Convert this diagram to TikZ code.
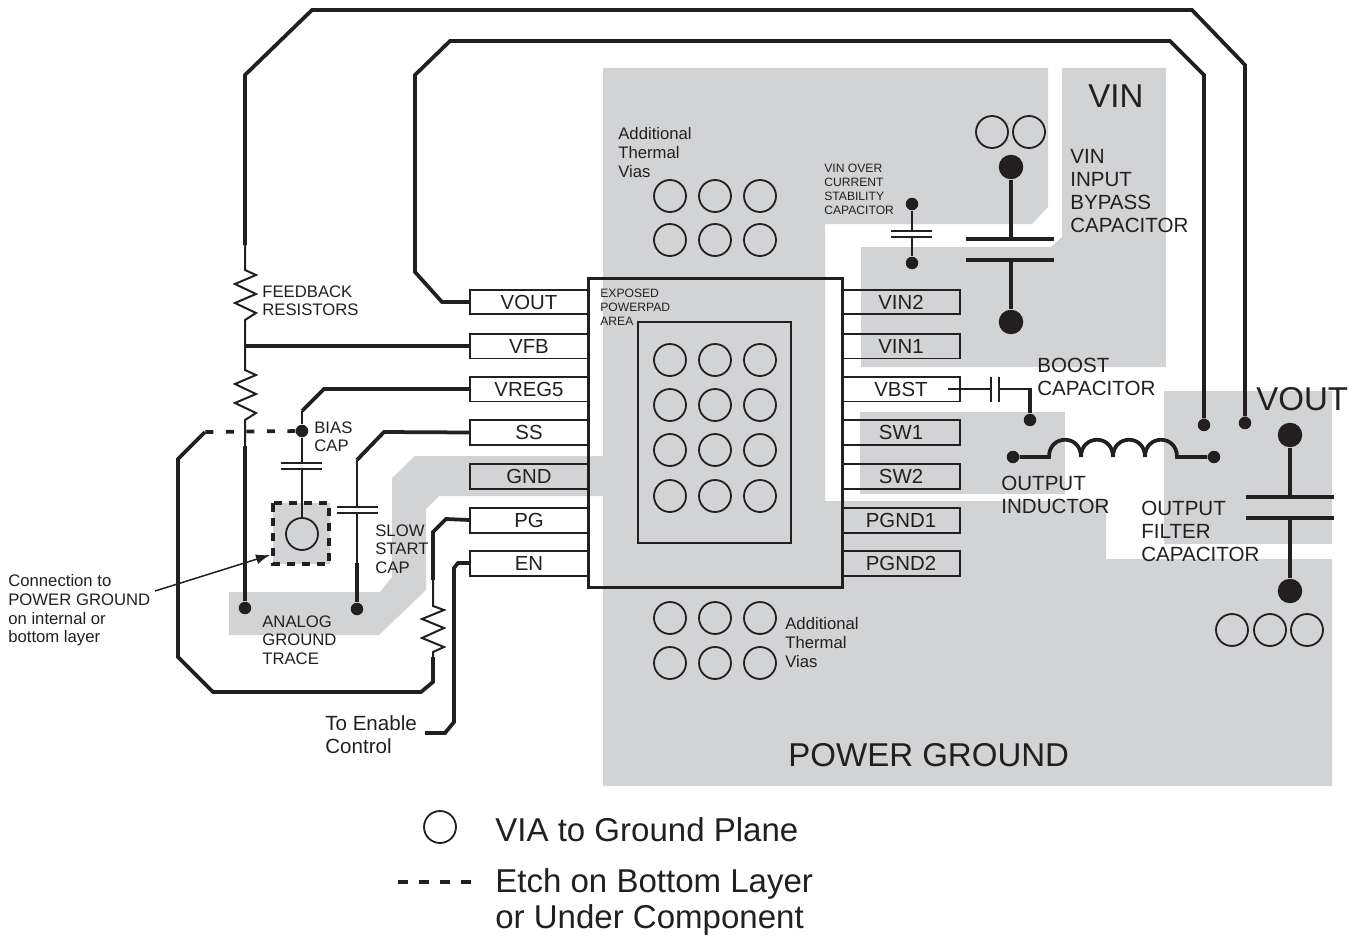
\documentclass[tikz,border=0pt]{standalone}
\usepackage{fontspec}
\setmainfont{Liberation Sans}
\usepackage{xcolor}
\usetikzlibrary{arrows.meta}
\definecolor{ink}{HTML}{231F20}
\definecolor{plane}{HTML}{D1D3D4}
\tikzset{
	pinbox/.style={draw=ink,line width=0.04cm,minimum width=2.36cm,minimum height=0.5cm,inner sep=0,font=\fontsize{11.6}{13}\selectfont},
	wire/.style={draw=ink,line width=0.075cm,line join=miter},
	thinwire/.style={draw=ink,line width=0.04cm},
	plate/.style={draw=ink,line width=0.04cm},
	fatplate/.style={draw=ink,line width=0.08cm},
	etch/.style={draw=ink,line width=0.075cm,dash pattern=on 0.16cm off 0.25cm},
	via/.style={circle,draw=ink,line width=0.036cm,minimum size=0.64cm,inner sep=0},
	smalldot/.style={circle,fill=ink,minimum size=0.25cm,inner sep=0},
	bigdot/.style={circle,fill=ink,minimum size=0.49cm,inner sep=0},
	txtbig/.style={anchor=north west,inner sep=0,align=left,font=\fontsize{18.8}{20.4}\selectfont},
	txtmid/.style={anchor=north west,inner sep=0,align=left,font=\fontsize{11.7}{13}\selectfont},
	txtsmall/.style={anchor=north west,inner sep=0,align=left,font=\fontsize{9.5}{10.7}\selectfont},
	txttiny/.style={anchor=north west,inner sep=0,align=left,font=\fontsize{6.9}{7.9}\selectfont},
}
\begin{document}
\begin{tikzpicture}[x=0.02cm,y=-0.02cm,text=ink]
	\useasboundingbox (0,0) rectangle (1366,936);
	\fill[plane] (603,68) -- (1048,68) -- (1048,207) -- (1032,224) -- (825,224) -- (825,501) -- (1106,501) -- (1106,559) -- (1332,559) -- (1332,786) -- (603,786) -- cycle;
	\fill[plane] (1062,68) -- (1166,68) -- (1166,367) -- (861,367) -- (861,247) -- (1051,247) -- (1062,237) -- cycle;
	\fill[plane] (860,412) rectangle (1065,494);
	\fill[plane] (1164,391) rectangle (1332,544);
	\fill[plane] (603,456) -- (415,456) -- (392,478) -- (392,577) -- (380,592) -- (229,592) -- (229,635) -- (379,635) -- (426,590) -- (426,509) -- (439,496) -- (603,496) -- cycle;
	\fill[plane] (273,503) rectangle (330,564);

	\node[pinbox] (vout) at (529,302) {VOUT};
	\node[pinbox] (vfb) at (529,346) {VFB};
	\node[pinbox] (vreg) at (529,389) {VREG5};
	\node[pinbox] (ss) at (529,432.5) {SS};
	\node[pinbox] (gnd) at (529,476) {GND};
	\node[pinbox] (pg) at (529,520) {PG};
	\node[pinbox] (en) at (529,563) {EN};
	\node[pinbox] (vintwo) at (901,302) {VIN2};
	\node[pinbox] (vinone) at (901,346) {VIN1};
	\node[pinbox] (vbst) at (901,389) {VBST};
	\node[pinbox] (swone) at (901,432.5) {SW1};
	\node[pinbox] (swtwo) at (901,476) {SW2};
	\node[pinbox] (pgndone) at (901,520) {PGND1};
	\node[pinbox] (pgndtwo) at (901,563) {PGND2};
	\draw[draw=ink,line width=0.06cm] (588,278) rectangle (842,587);
	\draw[draw=ink,line width=0.04cm] (638,322) rectangle (791,543);

	\node[via] (pa) at (670,360) {};
	\node[via] (pb) at (715,360) {};
	\node[via] (pc) at (760,360) {};
	\node[via] (pd) at (670,405) {};
	\node[via] (pe) at (715,405) {};
	\node[via] (pf) at (760,405) {};
	\node[via] (pg1) at (670,450) {};
	\node[via] (ph) at (715,450) {};
	\node[via] (pi) at (760,450) {};
	\node[via] (pj) at (670,496) {};
	\node[via] (pk) at (715,496) {};
	\node[via] (pl) at (760,496) {};
	\node[via] (ta) at (670,196) {};
	\node[via] (tb) at (715,196) {};
	\node[via] (tc) at (760,196) {};
	\node[via] (td) at (670,240) {};
	\node[via] (te) at (715,240) {};
	\node[via] (tf) at (760,240) {};
	\node[via] (ba) at (670,618) {};
	\node[via] (bb) at (715,618) {};
	\node[via] (bc) at (760,618) {};
	\node[via] (bd) at (670,663) {};
	\node[via] (be) at (715,663) {};
	\node[via] (bf) at (760,663) {};
	\node[via] (ina) at (992,132) {};
	\node[via] (inb) at (1029,132) {};
	\node[via] (outa) at (1232,630) {};
	\node[via] (outb) at (1270,630) {};
	\node[via] (outc) at (1307,630) {};
	\node[via] (agvia) at (302,534) {};
	\node[via] (legvia) at (440,827) {};

	\node[smalldot] (fbgnd) at (245,608) {};
	\node[smalldot] (sense) at (1245,423) {};
	\node[smalldot] (outsw) at (1204,425) {};
	\node[smalldot] (biasdot) at (302,431) {};
	\node[smalldot] (ssgnd) at (357,609) {};
	\node[smalldot] (octop) at (912,204) {};
	\node[smalldot] (ocbot) at (912,263) {};
	\node[smalldot] (bstdot) at (1030,420) {};
	\node[smalldot] (indin) at (1013,457) {};
	\node[smalldot] (indout) at (1214,457) {};
	\node[bigdot] (intop) at (1011,167) {};
	\node[bigdot] (inbot) at (1011,322) {};
	\node[bigdot] (ftop) at (1290,435) {};
	\node[bigdot] (fbot) at (1290,591) {};

	\coordinate (fbstart) at (245,245);
	\coordinate (fbmid) at (245,346);
	\coordinate (pgres) at (433,580);
	\coordinate (enend) at (425,733);

	\draw[wire] (fbstart) -- (245,75) -- (312,10) -- (1192,10) -- (1245,65) -- (sense);
	\draw[wire] (vout.west) -- (442,302) -- (415,272) -- (415,75) -- (450,41) -- (1170,41) -- (1204,75) -- (outsw);
	\draw[thinwire] (fbstart) -- (245,270) -- (256,275) -- (235,284) -- (256,294) -- (235,303) -- (256,313) -- (245,320) -- (fbmid);
	\draw[thinwire] (fbmid) -- (245,370) -- (256,375) -- (235,384) -- (256,394) -- (235,403) -- (256,413) -- (245,420) -- (245,446);
	\draw[wire] (245,446) -- (fbgnd);
	\draw[wire] (vfb.west) -- (fbmid);
	\draw[wire] (vreg.west) -- (324,389) -- (302,411);
	\draw[thinwire] (302,411) -- (biasdot);
	\draw[thinwire] (biasdot) -- (302,463);
	\draw[thinwire] (302,469) -- (agvia);
	\draw[plate] (281,463) -- (322,463);
	\draw[plate] (281,469) -- (322,469);
	\draw[etch] (biasdot) -- (205,432);
	\draw[wire] (205,432) -- (178,459) -- (178,657) -- (213,692) -- (421,692) -- (433,682) -- (433,657);
	\draw[thinwire] (433,657) -- (433,652) -- (444,647) -- (422,638) -- (444,628) -- (422,619) -- (444,610) -- (433,606) -- (pgres);
	\draw[wire] (pgres) -- (433,532) -- (446,519) -- (pg.west);
	\draw[wire] (en.west) -- (458,563) -- (454,568) -- (454,722) -- (445,733) -- (enend);
	\draw[wire] (ss.west) -- (384,432) -- (357,460);
	\draw[thinwire] (357,460) -- (357,507);
	\draw[thinwire] (357,513) -- (357,563);
	\draw[wire] (357,563) -- (ssgnd);
	\draw[plate] (337,507) -- (378,507);
	\draw[plate] (337,513) -- (378,513);
	\draw[draw=ink,line width=0.07cm,dash pattern=on 0.17cm off 0.13cm] (273,503) rectangle (329,564);
	\coordinate (connfrom) at (155,591);
	\coordinate (connto) at (270,555);
	\draw[draw=ink,line width=0.03cm,-{Latex[length=0.28cm,width=0.2cm]}] (connfrom) -- (connto);

	\draw[thinwire] (octop) -- (912,231);
	\draw[thinwire] (912,237) -- (ocbot);
	\draw[plate] (891,231) -- (932,231);
	\draw[plate] (891,237) -- (932,237);
	\draw[wire] (intop) -- (1011,239);
	\draw[fatplate] (966,239) -- (1054,239);
	\draw[fatplate] (966,260) -- (1054,260);
	\draw[wire] (1011,260) -- (inbot);
	\draw[thinwire] (948,389) -- (991,389);
	\draw[line width=0.05cm,draw=ink] (991,377) -- (991,402);
	\draw[line width=0.05cm,draw=ink] (999,377) -- (999,402);
	\draw[thinwire] (999,389) -- (1030,389);
	\draw[wire] (1030,388) -- (bstdot);
	\draw[wire] (indin) -- (1049,457) .. controls (1049,434) and (1081,434) .. (1081,457) .. controls (1081,434) and (1113,434) .. (1113,457) .. controls (1113,434) and (1145,434) .. (1145,457) .. controls (1145,434) and (1177,434) .. (1177,457) -- (indout);
	\draw[wire] (ftop) -- (1290,497);
	\draw[fatplate] (1246,497) -- (1334,497);
	\draw[fatplate] (1246,518) -- (1334,518);
	\draw[wire] (1290,518) -- (fbot);

	\node[txtbig] (vinname) at (1088,84) {VIN};
	\node[txtbig] (voutname) at (1256,387) {VOUT};
	\node[txtbig] (pwrgnd) at (788,743) {POWER GROUND};
	\node[txtsmall] (thermtop) at (618,127) {Additional\\Thermal\\Vias};
	\node[txtsmall] (thermbot) at (785,617) {Additional\\Thermal\\Vias};
	\node[txttiny] (overcur) at (824,164) {VIN OVER\\CURRENT\\STABILITY\\CAPACITOR};
	\node[txttiny] (padarea) at (600,289) {EXPOSED\\POWERPAD\\AREA};
	\node[txtmid] (bypass) at (1070,149) {VIN\\INPUT\\BYPASS\\CAPACITOR};
	\node[txtmid] (boost) at (1037,358) {BOOST\\CAPACITOR};
	\node[txtmid] (inductor) at (1001,476) {OUTPUT\\INDUCTOR};
	\node[txtmid] (filter) at (1141,501) {OUTPUT\\FILTER\\CAPACITOR};
	\node[txtsmall] (fbres) at (262,285) {FEEDBACK\\RESISTORS};
	\node[txtsmall] (biascap) at (314,421) {BIAS\\CAP};
	\node[txtsmall] (slowcap) at (375,524) {SLOW\\START\\CAP};
	\node[txtsmall] (agtrace) at (262,615) {ANALOG\\GROUND\\TRACE};
	\node[txtsmall] (connect) at (8,574) {Connection to\\POWER GROUND\\on internal or\\bottom layer};
	\node[txtmid] (enable) at (325,715) {To Enable\\Control};
	\node[txtbig] (legviatxt) at (495,817) {VIA to Ground Plane};
	\node[txtbig] (legetch) at (495,868) {Etch on Bottom Layer\\or Under Component};
	\coordinate (legfrom) at (398,882);
	\coordinate (legto) at (472,882);
	\draw[draw=ink,line width=0.072cm,dash pattern=on 0.2cm off 0.22cm] (legfrom) -- (legto);
\end{tikzpicture}
\end{document}
